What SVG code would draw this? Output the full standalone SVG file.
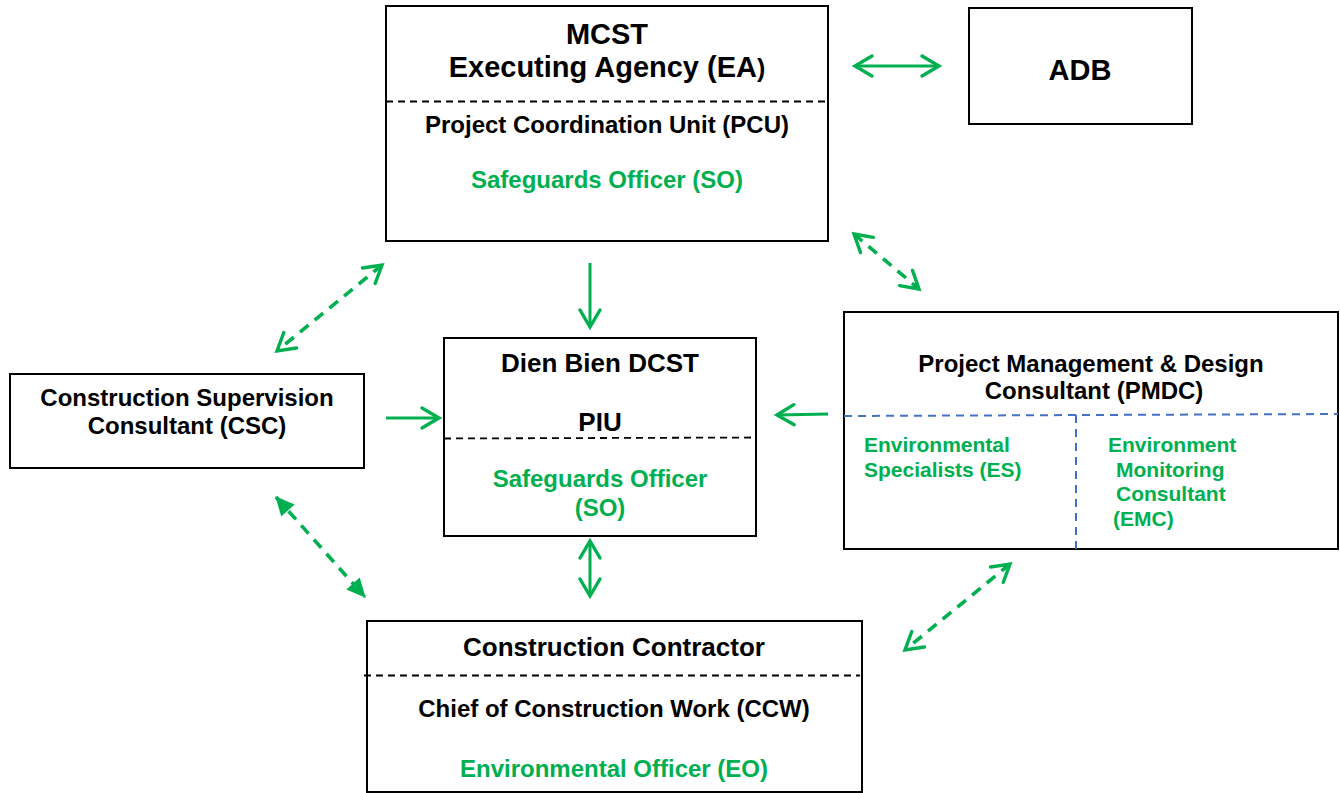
<svg xmlns="http://www.w3.org/2000/svg" width="1340" height="793" viewBox="0 0 1340 793">
<style>
text{font-family:"Liberation Sans",Arial,Helvetica,sans-serif;font-weight:bold;fill:#000}
.t29{font-size:29px}
.t26{font-size:26px}
.t24{font-size:24px}
.t21{font-size:21px}
.g{fill:#00B050}
.mid{text-anchor:middle}
.box{fill:#fff;stroke:#000;stroke-width:2}
.sep{stroke:#000;stroke-width:1.8;stroke-dasharray:7 5;fill:none}
.bsep{stroke:#4472C4;stroke-width:2;stroke-dasharray:8 6;fill:none}
.c{stroke:#00B050;stroke-width:3;fill:none}
.d{stroke-width:3.6;stroke-dasharray:11 8}
</style>
<defs>
<marker id="chev" markerUnits="userSpaceOnUse" markerWidth="30" markerHeight="30" refX="0" refY="0" orient="auto-start-reverse" overflow="visible">
<path d="M-17,-10 L0,0 L-17,10" fill="none" stroke="#00B050" stroke-width="3.4" stroke-dasharray="none" stroke-linejoin="miter" stroke-linecap="round"/>
</marker>
<marker id="tri" markerUnits="userSpaceOnUse" markerWidth="30" markerHeight="30" refX="0" refY="0" orient="auto-start-reverse" overflow="visible">
<path d="M-18,-9 L1,0 L-18,9 Z" fill="#00B050" stroke="none"/>
</marker>
</defs>

<g id="connectors">
<line class="c" x1="855" y1="66" x2="939" y2="66" marker-start="url(#chev)" marker-end="url(#chev)"/>
<line class="c" x1="590" y1="263" x2="590" y2="327" marker-end="url(#chev)"/>
<line class="c" x1="386" y1="418" x2="439" y2="418" marker-end="url(#chev)"/>
<line class="c" x1="828" y1="414" x2="777" y2="415" marker-end="url(#chev)"/>
<line class="c" x1="590" y1="541" x2="590" y2="596" marker-start="url(#chev)" marker-end="url(#chev)"/>
<line class="c d" x1="854" y1="234" x2="919" y2="289" marker-start="url(#chev)" marker-end="url(#chev)"/>
<line class="c d" x1="382" y1="265" x2="277" y2="351" marker-start="url(#chev)" marker-end="url(#chev)"/>
<line class="c d" x1="276" y1="497" x2="365" y2="597" marker-start="url(#tri)" marker-end="url(#tri)"/>
<line class="c d" x1="1010" y1="564" x2="905" y2="650" marker-start="url(#chev)" marker-end="url(#chev)"/>
</g>

<g id="mcst">
<rect class="box" x="386" y="6" width="442" height="235"/>
<line class="sep" x1="386" y1="101.5" x2="828" y2="101.5"/>
<text class="t29 mid" x="607" y="44">MCST</text>
<text class="t29 mid" x="607" y="77">Executing Agency (EA<tspan font-size="25">)</tspan></text>
<text class="t24 mid" x="607" y="133">Project Coordination Unit (PCU)</text>
<text class="t24 mid g" x="607" y="188">Safeguards Officer (SO)</text>
</g>

<g id="adb">
<rect class="box" x="969" y="8" width="223" height="116"/>
<text class="t29 mid" x="1080" y="80">ADB</text>
</g>

<g id="csc">
<rect class="box" x="10" y="374" width="354" height="94"/>
<text class="t24 mid" x="187" y="406">Construction Supervision</text>
<text class="t24 mid" x="187" y="434">Consultant (CSC)</text>
</g>

<g id="piu">
<rect class="box" x="444" y="338" width="312" height="198"/>
<line class="sep" x1="444" y1="438.5" x2="756" y2="437.5"/>
<text class="t26 mid" x="600" y="372">Dien Bien DCST</text>
<text class="t26 mid" x="600" y="431">PIU</text>
<text class="t24 mid g" x="600" y="487">Safeguards Officer</text>
<text class="t24 mid g" x="600" y="516">(SO)</text>
</g>

<g id="pmdc">
<rect class="box" x="844" y="312" width="494" height="237"/>
<line class="bsep" x1="844" y1="416" x2="1338" y2="414"/>
<line class="bsep" x1="1076" y1="415" x2="1076" y2="549"/>
<text class="t24 mid" x="1091" y="372">Project Management &amp; Design</text>
<text class="t24 mid" x="1094" y="399">Consultant (PMDC)</text>
<text class="t21 g" x="864" y="452">Environmental</text>
<text class="t21 g" x="864" y="477">Specialists (ES)</text>
<text class="t21 g" x="1108" y="452">Environment</text>
<text class="t21 g" x="1116" y="477">Monitoring</text>
<text class="t21 g" x="1116" y="501">Consultant</text>
<text class="t21 g" x="1113" y="526">(EMC)</text>
</g>

<g id="contractor">
<rect class="box" x="367" y="621" width="495" height="171"/>
<line class="sep" x1="364" y1="675.5" x2="860" y2="675.5"/>
<text class="t26 mid" x="614" y="656">Construction Contractor</text>
<text class="t24 mid" x="614" y="717">Chief of Construction Work (CCW)</text>
<text class="t24 mid g" x="614" y="777">Environmental Officer (EO)</text>
</g>
</svg>
